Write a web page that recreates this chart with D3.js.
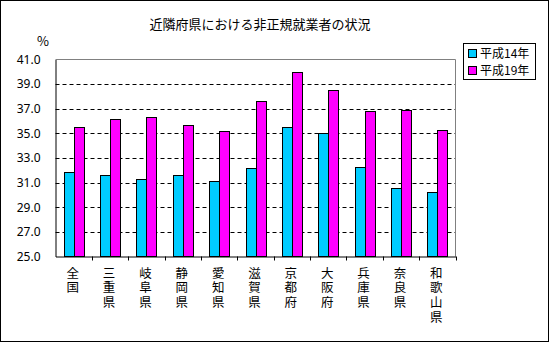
<!DOCTYPE html>
<html><head><meta charset="utf-8">
<script src="https://cdn.jsdelivr.net/npm/d3@7"></script>
<style>body{margin:0;background:#fff}svg{display:block}text{font-family:"Noto Sans CJK JP","Noto Sans",sans-serif;fill:#000}</style>
</head><body>
<script>
const categories = ["全国","三重県","岐阜県","静岡県","愛知県","滋賀県","京都府","大阪府","兵庫県","奈良県","和歌山県"];
const seriesNames = ["平成14年","平成19年"];
const h14 = [31.9,31.6,31.3,31.6,31.1,32.2,35.5,35.0,32.3,30.6,30.2];
const h19 = [35.5,36.2,36.3,35.7,35.2,37.6,40.0,38.5,36.8,36.9,35.3];
const yTicks = [25,27,29,31,33,35,37,39,41];
const colors = ["#00CCFF","#FF00FF"];

const W=550,H=343;
const svg=d3.select("body").append("svg").attr("width",W).attr("height",H);
svg.append("rect").attr("x",0.5).attr("y",0.5).attr("width",W-2).attr("height",H-2).attr("fill","#fff").attr("stroke","#000");

const L=55.5,R=455.5,T=59.5,B=256.5;
const x=d3.scaleBand().domain(categories).range([L,R]);
const y=d3.scaleLinear().domain([25,41]).range([B,T]);

svg.append("text").attr("x",260).attr("y",29).attr("text-anchor","middle").style("font-size","13px").text("近隣府県における非正規就業者の状況");
svg.append("text").attr("x",43).attr("y",46).attr("text-anchor","middle").style("font-size","13px").text("%");

// grid
svg.append("g").selectAll("line").data(yTicks.filter(t=>t>25&&t<41)).join("line")
 .attr("x1",L).attr("x2",R).attr("y1",d=>Math.round(y(d))+0.5).attr("y2",d=>Math.round(y(d))+0.5)
 .attr("stroke","#000").attr("stroke-dasharray","4,3");
// plot border top/right gray
svg.append("path").attr("d",`M${L},${T}H${R}V${B}`).attr("fill","none").attr("stroke","#808080");

// bars
const bw=10;
const data=[h14,h19];
data.forEach((s,i)=>{
 svg.append("g").selectAll("rect").data(s).join("rect")
  .attr("x",(d,j)=>Math.round(x(categories[j])+x.bandwidth()/2-bw+i*bw)+0.5)
  .attr("y",d=>Math.round(y(d))+0.5)
  .attr("width",bw).attr("height",d=>B-Math.round(y(d))-0.5)
  .attr("fill",colors[i]).attr("stroke","#000").attr("stroke-width",1);
});

// axes
const yAxis=svg.append("g").attr("transform",`translate(${L},0)`).call(d3.axisLeft(y).tickValues(yTicks).tickSize(0).tickPadding(15).tickFormat(d3.format(".1f")));
yAxis.select(".domain").attr("stroke","#000");
yAxis.selectAll("text").style("font-size","12px").style("font-family","'Noto Sans','DejaVu Sans',sans-serif");

const xAxis=svg.append("g").attr("transform",`translate(0,${B})`).call(d3.axisBottom(x).tickSize(0).tickFormat(""));
xAxis.select(".domain").attr("stroke","#000");
svg.append("g").selectAll("line").data(categories.slice(1).concat(["end"])).join("line")
 .attr("x1",(d,i)=>Math.round(L+x.step()*(i+1))+0.5).attr("x2",(d,i)=>Math.round(L+x.step()*(i+1))+0.5)
 .attr("y1",B).attr("y2",B+4).attr("stroke","#000");

// vertical category labels, one character per line
const lab=svg.append("g");
categories.forEach(c=>{
 [...c].forEach((ch,k)=>{
   lab.append("text").attr("text-anchor","middle").style("font-size","12.5px")
     .attr("x",x(c)+x.bandwidth()/2-1).attr("y",277.5+k*14.7).text(ch);
 });
});

// legend
const lg=svg.append("g");
lg.append("rect").attr("x",463.5).attr("y",43.5).attr("width",72).attr("height",36).attr("fill","#fff").attr("stroke","#000");
seriesNames.forEach((n,i)=>{
 lg.append("rect").attr("x",468.5).attr("y",49.5+i*17).attr("width",8).attr("height",8).attr("fill",colors[i]).attr("stroke","#000");
 lg.append("text").attr("x",480).attr("y",58+i*17).style("font-size","12px").text(n);
});
</script>
</body></html>
